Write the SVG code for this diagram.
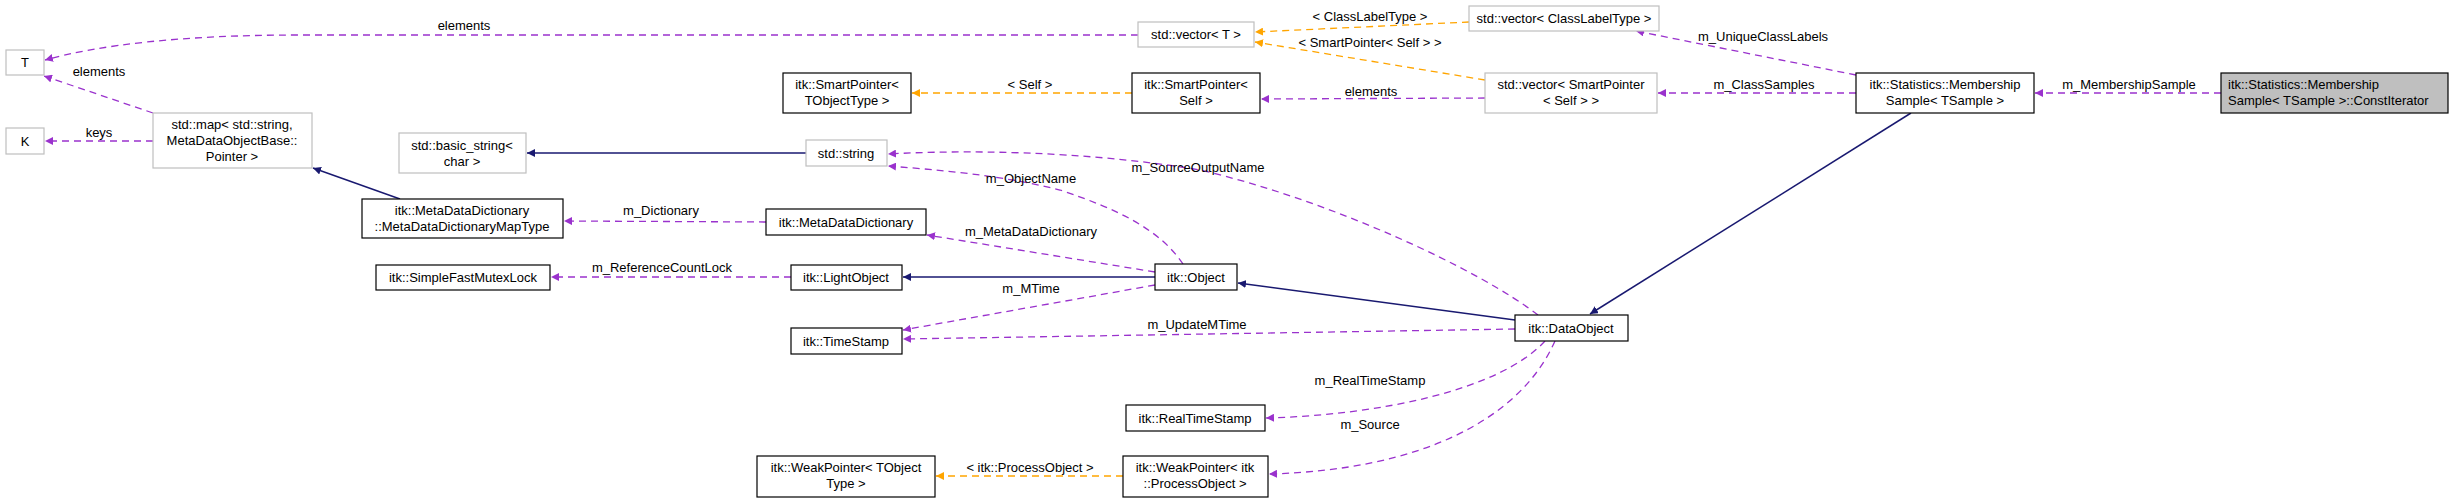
<svg xmlns="http://www.w3.org/2000/svg" width="2453" height="501" viewBox="0 0 2453 501">
<style>
text{font-family:"Liberation Sans",Arial,sans-serif;font-size:13px;text-anchor:middle;fill:#000}
.b{fill:#fff;stroke:#000;stroke-width:1.2}
.g{fill:#fff;stroke:#bfbfbf;stroke-width:1.2}
.p{fill:none;stroke:#9a32cd;stroke-width:1.3;stroke-dasharray:7,5}
.o{fill:none;stroke:#ffa500;stroke-width:1.3;stroke-dasharray:7,5}
.n{fill:none;stroke:#191970;stroke-width:1.5}
</style>
<defs>
<marker id="ap" viewBox="0 0 10 10" refX="10" refY="5" markerWidth="8" markerHeight="8" orient="auto" markerUnits="userSpaceOnUse"><path d="M0,0L10,5L0,10z" fill="#9a32cd"/></marker>
<marker id="ao" viewBox="0 0 10 10" refX="10" refY="5" markerWidth="8" markerHeight="8" orient="auto" markerUnits="userSpaceOnUse"><path d="M0,0L10,5L0,10z" fill="#ffa500"/></marker>
<marker id="an" viewBox="0 0 10 10" refX="10" refY="5" markerWidth="8" markerHeight="8" orient="auto" markerUnits="userSpaceOnUse"><path d="M0,0L10,5L0,10z" fill="#191970"/></marker>
</defs>
<g id="edges">
<path class="p" d="M1138,35 L300,35 C180,35 100,45 45,60" marker-end="url(#ap)"/><text x="464" y="30">elements</text>
<path class="p" d="M153,113 L44,76" marker-end="url(#ap)"/><text x="99" y="76">elements</text>
<path class="p" d="M153,141 L45,141" marker-end="url(#ap)"/><text x="99" y="137">keys</text>
<path class="n" d="M400,199 L313,168" marker-end="url(#an)"/>
<path class="n" d="M806,153 L527,153" marker-end="url(#an)"/>
<path class="p" d="M766,222 L564,221" marker-end="url(#ap)"/><text x="661" y="215">m_Dictionary</text>
<path class="o" d="M1469,22 L1255,32" marker-end="url(#ao)"/><text x="1370" y="21">&lt; ClassLabelType &gt;</text>
<path class="o" d="M1485,80 L1255,42" marker-end="url(#ao)"/><text x="1370" y="47">&lt; SmartPointer&lt; Self &gt; &gt;</text>
<path class="o" d="M1132,93 L912,93" marker-end="url(#ao)"/><text x="1030" y="89">&lt; Self &gt;</text>
<path class="p" d="M1485,98 L1261,99" marker-end="url(#ap)"/><text x="1371" y="96">elements</text>
<path class="p" d="M1856,75 L1636,31" marker-end="url(#ap)"/><text x="1763" y="41">m_UniqueClassLabels</text>
<path class="p" d="M1856,93 L1658,93" marker-end="url(#ap)"/><text x="1764" y="89">m_ClassSamples</text>
<path class="p" d="M2221,93 L2035,93" marker-end="url(#ap)"/><text x="2129" y="89">m_MembershipSample</text>
<path class="n" d="M1911,113 L1590,314" marker-end="url(#an)"/>
<path class="n" d="M1515,320 L1238,283" marker-end="url(#an)"/>
<path class="n" d="M1155,277 L903,277" marker-end="url(#an)"/>
<path class="p" d="M791,277 L551,277" marker-end="url(#ap)"/><text x="662" y="272">m_ReferenceCountLock</text>
<path class="p" d="M1183,264 C1160,230 1120,210 1060,190 C1000,175 940,170 888,166" marker-end="url(#ap)"/><text x="1031" y="183">m_ObjectName</text>
<path class="p" d="M1538,315 C1480,270 1330,200 1200,170 C1080,150 960,150 888,154" marker-end="url(#ap)"/><text x="1198" y="172">m_SourceOutputName</text>
<path class="p" d="M1155,272 L927,235" marker-end="url(#ap)"/><text x="1031" y="236">m_MetaDataDictionary</text>
<path class="p" d="M1155,285 L903,330" marker-end="url(#ap)"/><text x="1031" y="293">m_MTime</text>
<path class="p" d="M1515,329 L903,339" marker-end="url(#ap)"/><text x="1197" y="329">m_UpdateMTime</text>
<path class="p" d="M1545,341 C1500,390 1380,415 1266,418" marker-end="url(#ap)"/><text x="1370" y="385">m_RealTimeStamp</text>
<path class="p" d="M1555,341 C1520,420 1420,470 1269,474" marker-end="url(#ap)"/><text x="1370" y="429">m_Source</text>
<path class="o" d="M1123,476 L936,476" marker-end="url(#ao)"/><text x="1030" y="472">&lt; itk::ProcessObject &gt;</text>
</g>
<g id="T"><rect class="g" x="6" y="50" width="38" height="25"/><text x="25" y="67">T</text></g>
<g id="K"><rect class="g" x="6" y="128" width="38" height="26"/><text x="25" y="146">K</text></g>
<g id="map"><rect class="g" x="153" y="113" width="159" height="55"/><text x="232" y="129">std::map&lt; std::string,</text><text x="232" y="145">MetaDataObjectBase::</text><text x="232" y="161">Pointer &gt;</text></g>
<g id="basic_string"><rect class="g" x="399" y="133" width="127" height="40"/><text x="462" y="150">std::basic_string&lt;</text><text x="462" y="166">char &gt;</text></g>
<g id="maptype"><rect class="b" x="362" y="199" width="201" height="39"/><text x="462" y="215">itk::MetaDataDictionary</text><text x="462" y="231">::MetaDataDictionaryMapType</text></g>
<g id="vecT"><rect class="g" x="1138" y="22" width="116" height="25"/><text x="1196" y="39">std::vector&lt; T &gt;</text></g>
<g id="vecCL"><rect class="g" x="1469" y="6" width="190" height="25"/><text x="1564" y="23">std::vector&lt; ClassLabelType &gt;</text></g>
<g id="spT"><rect class="b" x="783" y="73" width="128" height="40"/><text x="847" y="89">itk::SmartPointer&lt;</text><text x="847" y="105">TObjectType &gt;</text></g>
<g id="spS"><rect class="b" x="1132" y="73" width="128" height="40"/><text x="1196" y="89">itk::SmartPointer&lt;</text><text x="1196" y="105">Self &gt;</text></g>
<g id="vecSP"><rect class="g" x="1485" y="73" width="172" height="40"/><text x="1571" y="89">std::vector&lt; SmartPointer</text><text x="1571" y="105">&lt; Self &gt; &gt;</text></g>
<g id="ms"><rect class="b" x="1856" y="73" width="178" height="40"/><text x="1945" y="89">itk::Statistics::Membership</text><text x="1945" y="105">Sample&lt; TSample &gt;</text></g>
<g id="ci"><rect x="2221" y="73" width="227" height="40" fill="#bfbfbf" stroke="#000" stroke-width="1.2"/><text x="2228" y="89" style="text-anchor:start">itk::Statistics::Membership</text><text x="2228" y="105" style="text-anchor:start">Sample&lt; TSample &gt;::ConstIterator</text></g>
<g id="string"><rect class="g" x="806" y="140" width="81" height="26"/><text x="846" y="158">std::string</text></g>
<g id="mdd"><rect class="b" x="766" y="209" width="160" height="26"/><text x="846" y="227">itk::MetaDataDictionary</text></g>
<g id="sfml"><rect class="b" x="376" y="265" width="174" height="25"/><text x="463" y="282">itk::SimpleFastMutexLock</text></g>
<g id="lo"><rect class="b" x="791" y="265" width="111" height="25"/><text x="846" y="282">itk::LightObject</text></g>
<g id="obj"><rect class="b" x="1155" y="264" width="82" height="26"/><text x="1196" y="282">itk::Object</text></g>
<g id="ts"><rect class="b" x="791" y="328" width="111" height="26"/><text x="846" y="346">itk::TimeStamp</text></g>
<g id="do"><rect class="b" x="1515" y="315" width="113" height="26"/><text x="1571" y="333">itk::DataObject</text></g>
<g id="rts"><rect class="b" x="1126" y="405" width="139" height="26"/><text x="1195" y="423">itk::RealTimeStamp</text></g>
<g id="wpT"><rect class="b" x="757" y="456" width="178" height="41"/><text x="846" y="472">itk::WeakPointer&lt; TObject</text><text x="846" y="488">Type &gt;</text></g>
<g id="wpP"><rect class="b" x="1123" y="456" width="145" height="41"/><text x="1195" y="472">itk::WeakPointer&lt; itk</text><text x="1195" y="488">::ProcessObject &gt;</text></g>
</svg>
